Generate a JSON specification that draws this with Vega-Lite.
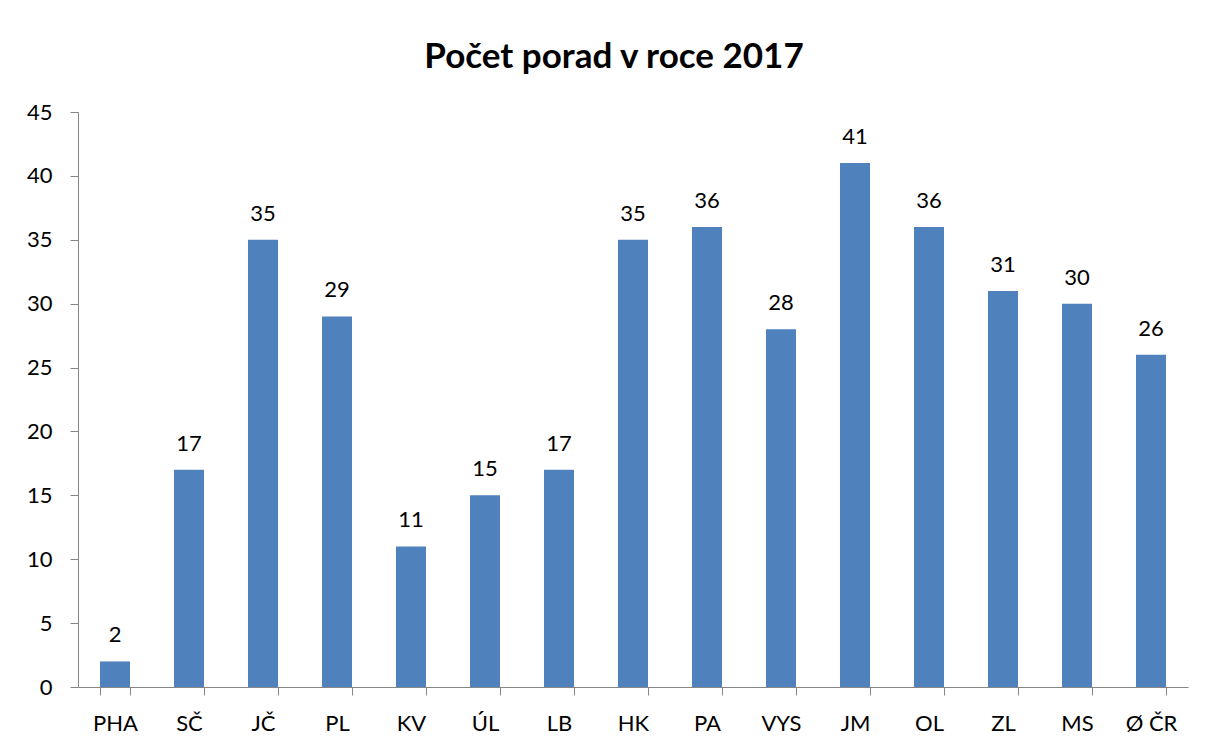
{
  "$schema": "https://vega.github.io/schema/vega-lite/v6.json",
  "autosize": {"type": "none"},
  "width": 1110,
  "height": 575,
  "padding": {"left": 78, "top": 112, "right": 19, "bottom": 57},
  "background": "white",
  "title": {
    "text": "Počet porad v roce 2017",
    "font": "Lato",
    "fontSize": 35,
    "fontWeight": "bold",
    "color": "black",
    "anchor": "middle",
    "dx": -19,
    "dy": 6,
    "baseline": "alphabetic",
    "offset": 4
  },
  "data": {
    "values": [
      {"kraj": "PHA", "pocet": 2},
      {"kraj": "SČ", "pocet": 17},
      {"kraj": "JČ", "pocet": 35},
      {"kraj": "PL", "pocet": 29},
      {"kraj": "KV", "pocet": 11},
      {"kraj": "ÚL", "pocet": 15},
      {"kraj": "LB", "pocet": 17},
      {"kraj": "HK", "pocet": 35},
      {"kraj": "PA", "pocet": 36},
      {"kraj": "VYS", "pocet": 28},
      {"kraj": "JM", "pocet": 41},
      {"kraj": "OL", "pocet": 36},
      {"kraj": "ZL", "pocet": 31},
      {"kraj": "MS", "pocet": 30},
      {"kraj": "Ø ČR", "pocet": 26}
    ]
  },
  "encoding": {
    "x": {
      "field": "kraj",
      "type": "nominal",
      "sort": null,
      "scale": {"paddingInner": 0.595, "paddingOuter": 0.2975},
      "axis": {
        "title": null,
        "labelAngle": 0,
        "tickBand": "extent",
        "tickSize": 8,
        "tickColor": "#868686",
        "domainColor": "#868686",
        "labelFont": "Lato",
        "labelFontSize": 22,
        "labelColor": "black",
        "labelBaseline": "alphabetic",
        "labelPadding": 35
      }
    },
    "y": {
      "field": "pocet",
      "type": "quantitative",
      "scale": {"domain": [0, 45], "nice": false},
      "axis": {
        "title": null,
        "values": [0, 5, 10, 15, 20, 25, 30, 35, 40, 45],
        "grid": false,
        "tickSize": 8,
        "tickColor": "#868686",
        "domainColor": "#868686",
        "labelFont": "Lato",
        "labelFontSize": 22,
        "labelColor": "black",
        "labelPadding": 18
      }
    }
  },
  "layer": [
    {"mark": {"type": "bar", "color": "#4F81BD"}},
    {
      "mark": {"type": "text", "font": "Lato", "fontSize": 22, "color": "black", "baseline": "alphabetic", "dy": -19},
      "encoding": {"text": {"field": "pocet", "type": "quantitative"}}
    }
  ],
  "config": {"view": {"stroke": null}}
}
